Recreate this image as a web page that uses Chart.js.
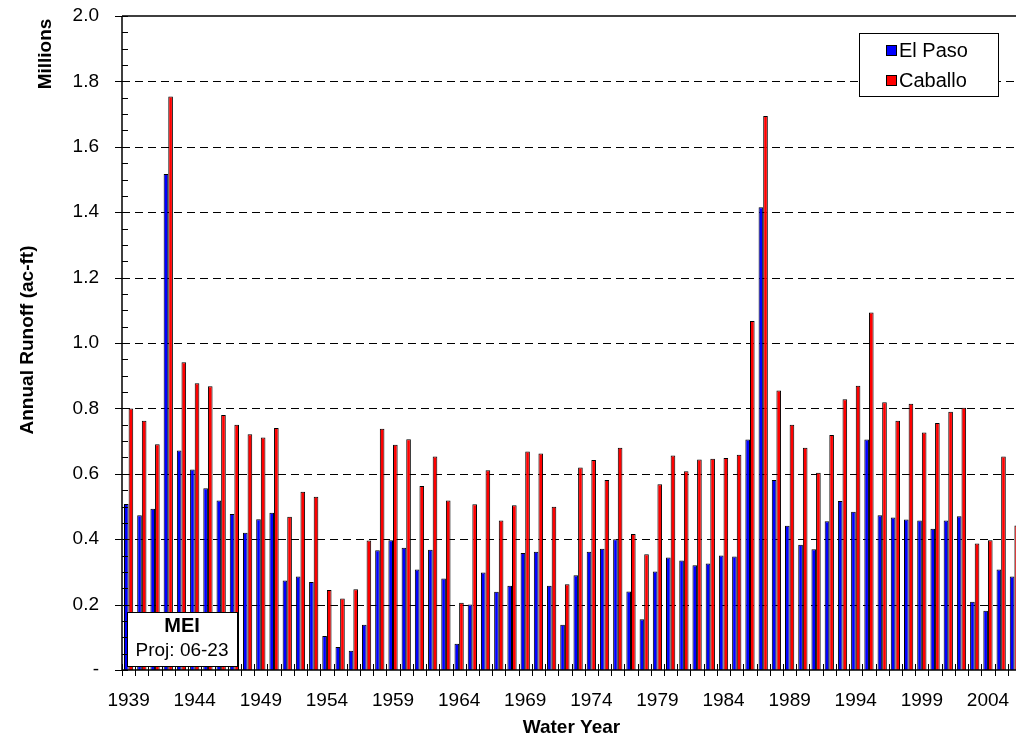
<!DOCTYPE html>
<html><head><meta charset="utf-8">
<script src="https://cdn.jsdelivr.net/npm/chart.js@4.4.0/dist/chart.umd.min.js"></script>
<style>
html,body{margin:0;padding:0;background:#fff;overflow:hidden;width:1016px;height:737px;}
#c{position:absolute;left:0;top:0;}
</style></head><body>
<canvas id="c" width="1021" height="737"></canvas>
<script>
const years = [1939,1940,1941,1942,1943,1944,1945,1946,1947,1948,1949,1950,1951,1952,1953,1954,1955,1956,1957,1958,1959,1960,1961,1962,1963,1964,1965,1966,1967,1968,1969,1970,1971,1972,1973,1974,1975,1976,1977,1978,1979,1980,1981,1982,1983,1984,1985,1986,1987,1988,1989,1990,1991,1992,1993,1994,1995,1996,1997,1998,1999,2000,2001,2002,2003,2004,2005,2006];
const elPaso = [0.508,0.473,0.493,1.517,0.671,0.613,0.556,0.518,0.477,0.420,0.461,0.481,0.274,0.286,0.269,0.104,0.070,0.059,0.138,0.366,0.397,0.374,0.307,0.368,0.280,0.080,0.200,0.298,0.239,0.258,0.358,0.362,0.258,0.138,0.290,0.362,0.371,0.400,0.240,0.155,0.301,0.344,0.335,0.320,0.326,0.350,0.347,0.705,1.415,0.581,0.441,0.383,0.369,0.455,0.517,0.484,0.705,0.473,0.466,0.460,0.457,0.432,0.457,0.470,0.209,0.181,0.307,0.286];
const caballo = [0.800,0.762,0.690,1.754,0.941,0.877,0.868,0.780,0.750,0.721,0.711,0.740,0.469,0.545,0.530,0.245,0.219,0.247,0.396,0.738,0.689,0.706,0.563,0.653,0.518,0.206,0.507,0.611,0.457,0.504,0.668,0.662,0.499,0.262,0.619,0.642,0.581,0.680,0.416,0.354,0.568,0.656,0.608,0.644,0.646,0.648,0.658,1.067,1.694,0.855,0.750,0.680,0.603,0.719,0.828,0.869,1.093,0.819,0.762,0.814,0.726,0.755,0.790,0.802,0.387,0.397,0.653,0.442];
const seriesNames = ['El Paso','Caballo'];
const seriesColors = ['#0000FF','#FF0000'];
const yTickLabels = ['-','0.2','0.4','0.6','0.8','1.0','1.2','1.4','1.6','1.8','2.0'];
const xTickLabels = years.map(y => ((y - 1939) % 5 === 0) ? String(y) : '');
const FONT = "'Liberation Sans', Arial, sans-serif";

const deco = {
  id: 'deco',
  beforeDatasetsDraw(chart) {
    const {ctx, chartArea: a, scales: {y}} = chart;
    ctx.save();
    ctx.strokeStyle = '#000';
    ctx.lineWidth = 1;
    ctx.setLineDash([8, 5]);
    y.ticks.forEach(t => {
      if (t.value <= 0 || t.value >= 2) return;
      const py = Math.round(y.getPixelForValue(t.value)) + 0.5;
      ctx.beginPath(); ctx.moveTo(a.left, py); ctx.lineTo(a.right, py); ctx.stroke();
    });
    ctx.restore();
  },
  afterDatasetsDraw(chart) {
    const {ctx, chartArea: a, scales: {x, y}} = chart;
    ctx.save();
    ctx.strokeStyle = '#000';
    const n = chart.data.labels.length;
    const half = (x.getPixelForValue(1) - x.getPixelForValue(0)) / 2;
    ctx.lineWidth = 1;
    for (let i = 0; i <= n; i++) {
      const px = Math.round(x.getPixelForValue(i) - half) + 0.5;
      ctx.beginPath(); ctx.moveTo(px, a.bottom - 6); ctx.lineTo(px, a.bottom + 6); ctx.stroke();
    }
    for (let k = 1; k < 40; k++) {
      if (k % 4 === 0) continue;
      const py = Math.round(y.getPixelForValue(k * 0.05)) + 0.5;
      ctx.beginPath(); ctx.moveTo(a.left, py); ctx.lineTo(a.left + 6, py); ctx.stroke();
    }
    y.ticks.forEach(t => {
      const py = Math.round(y.getPixelForValue(t.value)) + 0.5;
      ctx.beginPath(); ctx.moveTo(a.left - 7, py); ctx.lineTo(a.left + 6, py); ctx.stroke();
    });
    ctx.lineWidth = 1.5;
    ctx.beginPath();
    ctx.moveTo(a.left, a.top); ctx.lineTo(a.right, a.top);
    ctx.moveTo(a.left, a.top); ctx.lineTo(a.left, a.bottom);
    ctx.moveTo(a.left, a.bottom); ctx.lineTo(a.right, a.bottom);
    ctx.stroke();

    // legend
    ctx.lineWidth = 1;
    ctx.fillStyle = '#fff';
    ctx.fillRect(859.5, 33.5, 139, 63);
    ctx.strokeRect(859.5, 33.5, 139, 63);
    ctx.font = '20px ' + FONT;
    ctx.textBaseline = 'middle';
    ctx.textAlign = 'left';
    chart.data.datasets.forEach((ds, i) => {
      const cy = 50 + i * 30;
      ctx.fillStyle = ds.backgroundColor;
      ctx.fillRect(886, cy - 5, 11, 11);
      ctx.strokeRect(886.5, cy - 4.5, 10, 10);
      ctx.fillStyle = '#000';
      ctx.fillText(ds.label, 899, cy + 1);
    });

    // MEI box
    ctx.fillStyle = '#fff';
    ctx.fillRect(127.5, 612.5, 110, 54);
    ctx.strokeRect(127.5, 612.5, 110, 54);
    ctx.fillStyle = '#000';
    ctx.textAlign = 'center';
    ctx.font = "bold 20px 'Liberation Sans Narrow', 'Liberation Sans', sans-serif";
    ctx.fillText('MEI', 182, 626);
    ctx.font = '19px ' + FONT;
    ctx.fillText('Proj: 06-23', 182, 651);

    // titles
    ctx.font = 'bold 19px ' + FONT;
    ctx.textBaseline = 'alphabetic';
    ctx.fillText('Water Year', (a.left + a.right) / 2, 733);
    ctx.save();
    ctx.translate(33, 340); ctx.rotate(-Math.PI / 2);
    ctx.fillText('Annual Runoff (ac-ft)', 0, 0);
    ctx.restore();
    ctx.save();
    ctx.translate(51, 54); ctx.rotate(-Math.PI / 2);
    ctx.fillText('Millions', 0, 0);
    ctx.restore();
    ctx.restore();
  }
};

new Chart(document.getElementById('c'), {
  type: 'bar',
  data: {
    labels: years.map(String),
    datasets: [
      {label: seriesNames[0], data: elPaso, backgroundColor: seriesColors[0], borderColor: '#000', borderWidth: 1, categoryPercentage: 0.7, barPercentage: 1.0},
      {label: seriesNames[1], data: caballo, backgroundColor: seriesColors[1], borderColor: '#000', borderWidth: 1, categoryPercentage: 0.7, barPercentage: 1.0}
    ]
  },
  options: {
    responsive: false,
    animation: false,
    layout: {padding: {top: 16, left: 0, right: 0, bottom: 0}},
    plugins: {legend: {display: false}, tooltip: {enabled: false}, title: {display: false}},
    scales: {
      x: {
        grid: {display: false, drawTicks: false},
        border: {display: false},
        ticks: {autoSkip: false, maxRotation: 0, minRotation: 0, padding: 19, color: '#000',
          font: {family: FONT, size: 19},
          callback: (v, i) => xTickLabels[i]},
        afterFit: s => { s.height = 67; s.paddingLeft = 0; s.paddingRight = 0; }
      },
      y: {
        min: 0, max: 2,
        grid: {display: false, drawTicks: false},
        border: {display: false},
        ticks: {stepSize: 0.2, padding: 23, color: '#000',
          font: {family: FONT, size: 19},
          callback: (v) => yTickLabels[Math.round(v / 0.2)]},
        afterFit: s => { s.width = 122; s.paddingTop = 0; s.paddingBottom = 0; }
      }
    }
  },
  plugins: [deco]
});
</script>
</body></html>
